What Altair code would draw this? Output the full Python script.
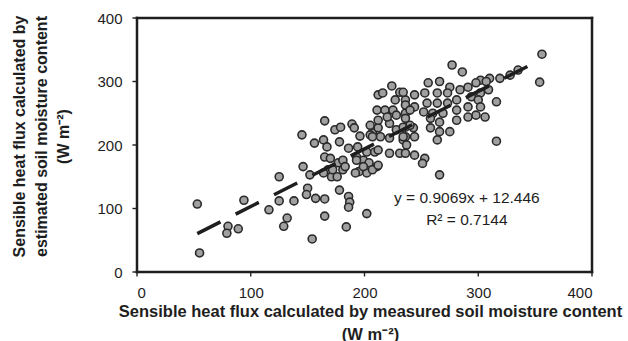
import altair as alt
import pandas as pd

# Measured-based sensible heat flux (x) vs estimated-based (y), W m-2
x_vals = [53, 55, 80, 79, 89, 94, 116, 125, 125, 132, 129, 138, 154, 145, 146, 152, 150, 149,
          157, 165, 165, 178, 186, 187, 186, 184, 202, 165, 156, 164, 167, 165, 170, 168, 164,
          171, 177, 181, 174, 179, 178, 186, 189, 191, 196, 193, 199, 202, 204, 195, 202, 209,
          207, 212, 211, 211, 224, 216, 231, 236, 218, 225, 228, 236, 205, 212, 222, 228, 236,
          205, 214, 222, 234, 194, 212, 222, 231, 181, 193, 199, 207, 192, 183, 172, 176,
          356, 354, 335, 328, 319, 310, 302, 277, 286, 316, 316, 266, 256, 266, 275, 284, 291,
          298, 307, 309, 302, 294, 244, 234, 253, 264, 273, 281, 273, 264, 255, 244, 236, 300,
          302, 291, 281, 269, 260, 252, 298, 306, 291, 281, 266, 258, 236, 243, 236, 244, 258,
          266, 275, 237, 244, 253, 251, 264, 236, 212, 212, 220, 227, 240, 234, 234, 240, 207]
y_vals = [107, 30, 72, 61, 68, 113, 98, 150, 112, 85, 72, 112, 52, 216, 166, 153, 132, 122,
          116, 115, 88, 129, 119, 110, 102, 71, 92, 238, 203, 208, 197, 181, 179, 161, 156,
          150, 172, 161, 224, 228, 205, 195, 233, 227, 214, 181, 176, 189, 172, 158, 156, 189,
          219, 279, 255, 166, 293, 282, 283, 271, 255, 255, 247, 250, 231, 227, 234, 224, 228,
          216, 213, 211, 208, 197, 192, 187, 187, 176, 176, 166, 161, 156, 166, 161, 150,
          343, 299, 318, 310, 305, 305, 302, 326, 315, 268, 206, 153, 298, 300, 291, 287, 291,
          298, 300, 287, 282, 276, 279, 283, 282, 282, 282, 271, 266, 266, 266, 260, 263, 271,
          260, 260, 255, 250, 250, 252, 247, 244, 244, 239, 236, 242, 242, 227, 213, 213, 227,
          221, 221, 200, 184, 179, 171, 208, 187, 168, 239, 244, 271, 255, 228, 213, 231, 213]

slope = 0.9069
intercept = 12.446
eq_lines = ["y = 0.9069x + 12.446", "R² = 0.7144"]
eq_x = [290, 290]
eq_y = [116, 82]
x_ticks = [0, 100, 200, 300, 400]
y_ticks = [0, 100, 200, 300, 400]
axis_lo, axis_hi = 0, 400

pts = pd.DataFrame({"x": x_vals, "y": y_vals})
xmin, xmax = min(x_vals), max(x_vals)
fit = pd.DataFrame({"x": [xmin, xmax],
                    "y": [slope * xmin + intercept, slope * xmax + intercept]})
ann = pd.DataFrame({"x": eq_x, "y": eq_y, "t": eq_lines})

# frame drawn as four thin filled bands along the axis range edges
hx, hy = 1.1, 2.0   # half-thickness in data units (~1.25 px)
border_df = pd.DataFrame({
    "x":  [axis_lo - hx, axis_lo - hx, axis_lo - hx, axis_hi - hx],
    "x2": [axis_hi + hx, axis_hi + hx, axis_lo + hx, axis_hi + hx],
    "y":  [axis_lo - hy, axis_hi - hy, axis_lo - hy, axis_lo - hy],
    "y2": [axis_lo + hy, axis_hi + hy, axis_hi + hy, axis_hi + hy],
})
# small outward ticks as filled slivers
tick_rows = []
for v in x_ticks:
    tick_rows.append({"x": v - 0.6, "x2": v + 0.6, "y": axis_lo - 7, "y2": axis_lo})
for v in y_ticks:
    tick_rows.append({"x": axis_lo - 4, "x2": axis_lo, "y": v - 1.1, "y2": v + 1.1})
ticks_df = pd.DataFrame(tick_rows)

FONT = "Liberation Sans"
INK = "#1e1e1e"

xscale = alt.Scale(domain=[axis_lo, axis_hi], nice=False, zero=False)
yscale = alt.Scale(domain=[axis_lo, axis_hi], nice=False, zero=False)

xaxis = alt.Axis(
    values=x_ticks, grid=False, domain=False, ticks=False,
    labelFont=FONT, labelFontSize=15, labelColor=INK, labelPadding=13,
    title=["Sensible heat flux calculated by measured soil moisture content", "(W m⁻²)"],
    titleFont=FONT, titleFontSize=16.5, titleFontWeight="bold", titleColor=INK,
    titleX=233, titleY=31, titleAlign="center", titleBaseline="top", titleLineHeight=23,
)
yaxis = alt.Axis(
    values=y_ticks, grid=False, domain=False, ticks=False,
    labelFont=FONT, labelFontSize=15, labelColor=INK, labelPadding=15,
    title=["Sensible heat flux calculated by", "estimated soil moisture content", "(W m⁻²)"],
    titleFont=FONT, titleFontSize=16, titleFontWeight="bold", titleColor=INK,
    titleX=-126, titleY=118, titleAlign="center", titleBaseline="top", titleAngle=-90,
    titleLineHeight=22,
)

points = alt.Chart(pts).mark_point(
    shape="circle", filled=True, fill="#a0a0a0", stroke="#2a2a2a",
    strokeWidth=1.6, size=64, opacity=1
).encode(
    x=alt.X("x:Q", scale=xscale, axis=xaxis),
    y=alt.Y("y:Q", scale=yscale, axis=yaxis),
)

line = alt.Chart(fit).mark_line(
    color=INK, strokeWidth=3.5, strokeDash=[26, 17]
).encode(x=alt.X("x:Q", scale=xscale), y=alt.Y("y:Q", scale=yscale))

text = alt.Chart(ann).mark_text(
    font=FONT, fontSize=15.5, color=INK, align="center", baseline="middle"
).encode(x=alt.X("x:Q", scale=xscale), y=alt.Y("y:Q", scale=yscale), text="t:N")

border = alt.Chart(border_df).mark_rect(color=INK, opacity=1, clip=False).encode(
    x=alt.X("x:Q", scale=xscale), x2="x2:Q",
    y=alt.Y("y:Q", scale=yscale), y2="y2:Q")

ticks = alt.Chart(ticks_df).mark_rect(color=INK, opacity=1, clip=False).encode(
    x=alt.X("x:Q", scale=xscale), x2="x2:Q",
    y=alt.Y("y:Q", scale=yscale), y2="y2:Q")

chart = alt.layer(points, line, text, border, ticks).properties(
    width=455, height=254,
    autosize=alt.AutoSizeParams(type="none"),
    padding={"left": 137, "top": 18, "right": 36, "bottom": 69},
    background="white",
).configure_view(stroke=None)

chart.save("out.html", embed_options={"renderer": "svg", "actions": False})
